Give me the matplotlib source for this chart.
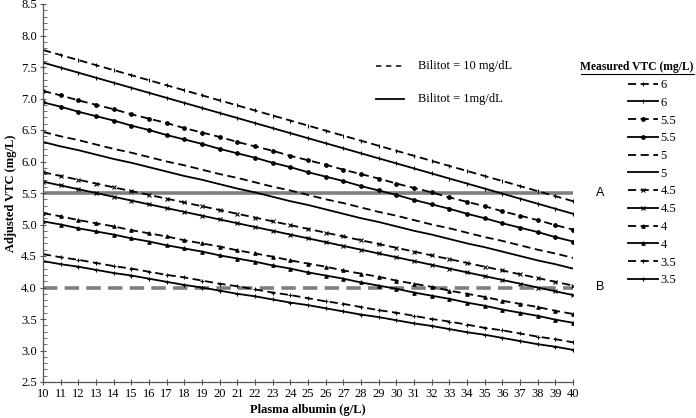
import matplotlib
matplotlib.use("Agg")
import matplotlib.pyplot as plt
from matplotlib.lines import Line2D

plt.rcParams["font.family"] = ["Liberation Serif", "DejaVu Serif"]

# Plasma albumin (g/L)
albumin = list(range(10, 41))

# Adjusted VTC (mg/L); "hi" = Bilitot 10 mg/dL (dashed), "lo" = Bilitot 1 mg/dL (solid)
vtc6_hi = [7.77, 7.69, 7.61, 7.53, 7.45, 7.37, 7.29, 7.21, 7.13, 7.05, 6.97, 6.89, 6.81, 6.73, 6.65, 6.57,
           6.49, 6.41, 6.33, 6.25, 6.17, 6.09, 6.01, 5.93, 5.85, 5.77, 5.69, 5.61, 5.53, 5.45, 5.37]
vtc6_lo = [7.57, 7.49, 7.41, 7.33, 7.25, 7.17, 7.09, 7.01, 6.93, 6.85, 6.77, 6.69, 6.61, 6.53, 6.45, 6.37,
           6.29, 6.21, 6.13, 6.05, 5.97, 5.89, 5.81, 5.73, 5.65, 5.57, 5.49, 5.41, 5.33, 5.25, 5.17]
vtc55_hi = [7.12, 7.05, 6.97, 6.90, 6.83, 6.75, 6.68, 6.61, 6.53, 6.46, 6.39, 6.31, 6.24, 6.17, 6.09, 6.02,
            5.95, 5.87, 5.80, 5.73, 5.65, 5.58, 5.51, 5.43, 5.36, 5.29, 5.21, 5.14, 5.07, 4.99, 4.92]
vtc55_lo = [6.94, 6.87, 6.79, 6.72, 6.65, 6.57, 6.50, 6.42, 6.35, 6.28, 6.20, 6.13, 6.06, 5.98, 5.91, 5.83,
            5.76, 5.69, 5.61, 5.54, 5.47, 5.39, 5.32, 5.25, 5.17, 5.10, 5.02, 4.95, 4.88, 4.80, 4.73]
vtc5_hi = [6.47, 6.40, 6.34, 6.27, 6.20, 6.14, 6.07, 6.00, 5.94, 5.87, 5.80, 5.74, 5.67, 5.60, 5.54, 5.47,
           5.40, 5.34, 5.27, 5.20, 5.14, 5.07, 5.00, 4.94, 4.87, 4.80, 4.74, 4.67, 4.60, 4.54, 4.47]
vtc5_lo = [6.31, 6.24, 6.18, 6.11, 6.04, 5.98, 5.91, 5.84, 5.77, 5.71, 5.64, 5.57, 5.51, 5.44, 5.37, 5.31,
           5.24, 5.17, 5.10, 5.04, 4.97, 4.90, 4.84, 4.77, 4.70, 4.64, 4.57, 4.50, 4.43, 4.37, 4.30]
vtc45_hi = [5.83, 5.77, 5.71, 5.65, 5.59, 5.53, 5.47, 5.41, 5.35, 5.29, 5.23, 5.17, 5.11, 5.05, 4.99, 4.93,
            4.87, 4.81, 4.75, 4.69, 4.63, 4.57, 4.51, 4.45, 4.39, 4.33, 4.27, 4.21, 4.15, 4.09, 4.03]
vtc45_lo = [5.68, 5.62, 5.56, 5.50, 5.44, 5.38, 5.32, 5.26, 5.20, 5.14, 5.08, 5.02, 4.96, 4.90, 4.84, 4.78,
            4.72, 4.66, 4.60, 4.54, 4.48, 4.42, 4.36, 4.30, 4.24, 4.18, 4.12, 4.06, 4.00, 3.94, 3.88]
vtc4_hi = [5.18, 5.13, 5.07, 5.02, 4.97, 4.91, 4.86, 4.81, 4.75, 4.70, 4.65, 4.59, 4.54, 4.49, 4.43, 4.38,
           4.33, 4.27, 4.22, 4.17, 4.11, 4.06, 4.01, 3.95, 3.90, 3.85, 3.79, 3.74, 3.69, 3.63, 3.58]
vtc4_lo = [5.05, 5.00, 4.94, 4.89, 4.84, 4.78, 4.73, 4.67, 4.62, 4.57, 4.51, 4.46, 4.41, 4.35, 4.30, 4.24,
           4.19, 4.14, 4.08, 4.03, 3.98, 3.92, 3.87, 3.82, 3.76, 3.71, 3.65, 3.60, 3.55, 3.49, 3.44]
vtc35_hi = [4.53, 4.48, 4.44, 4.39, 4.34, 4.30, 4.25, 4.20, 4.16, 4.11, 4.06, 4.02, 3.97, 3.92, 3.88, 3.83,
            3.78, 3.74, 3.69, 3.64, 3.60, 3.55, 3.50, 3.46, 3.41, 3.36, 3.32, 3.27, 3.22, 3.18, 3.13]
vtc35_lo = [4.42, 4.37, 4.33, 4.28, 4.23, 4.19, 4.14, 4.09, 4.04, 4.00, 3.95, 3.90, 3.86, 3.81, 3.76, 3.72,
            3.67, 3.62, 3.57, 3.53, 3.48, 3.43, 3.39, 3.34, 3.29, 3.25, 3.20, 3.15, 3.10, 3.06, 3.01]

measured = ["6", "6", "5.5", "5.5", "5", "5", "4.5", "4.5", "4", "4", "3.5", "3.5"]
series = [vtc6_hi, vtc6_lo, vtc55_hi, vtc55_lo, vtc5_hi, vtc5_lo,
          vtc45_hi, vtc45_lo, vtc4_hi, vtc4_lo, vtc35_hi, vtc35_lo]

# reference levels A and B
level_a = 5.5
level_b = 4.0

# -----------------------------
# Styles per measured VTC level
# -----------------------------
markers = ["|", "|", "o", "o", None, None, "x", "x", "^", "^", "+", "+"]
msizes = [2.5, 2.5, 2.6, 2.6, 0, 0, 3, 3, 2.5, 2.5, 3, 3]
DASH = (0, (4.5, 2.5))
FS = 9

fig = plt.figure(figsize=(6.96, 4.18), dpi=100)
ax = fig.add_axes([43 / 696, 1 - 382 / 418, 530 / 696, 378 / 418])

handles = []
for i, (vals, lab) in enumerate(zip(series, measured)):
    ls = DASH if i % 2 == 0 else "-"
    ln, = ax.plot(albumin, vals, color="black", linestyle=ls, linewidth=1.3,
                  marker=markers[i], markersize=msizes[i], markeredgewidth=0.8,
                  label=lab)
    handles.append(ln)

ax.hlines(level_a, albumin[0], albumin[-1], color="#7f7f7f", linewidth=2.6, zorder=1)
ax.hlines(level_b, albumin[0], albumin[-1], color="#7f7f7f", linewidth=2.6,
          linestyles=(0, (4, 2)), zorder=1)
ax.text(41.3, level_a, "A", family="Liberation Sans", fontsize=FS, va="center", clip_on=False)
ax.text(41.3, level_b, "B", family="Liberation Sans", fontsize=FS, va="center", clip_on=False)

# Bilitot key inside the plot
ax.plot([0.628, 0.680], [0.836, 0.836], transform=ax.transAxes, color="black",
        linestyle=(0, (3.5, 3)), linewidth=1.1)
ax.plot([0.628, 0.682], [0.749, 0.749], transform=ax.transAxes, color="black",
        linestyle="-", linewidth=1.3)
ax.text(0.7075, 0.836, "Bilitot = 10 mg/dL", transform=ax.transAxes, fontsize=FS, va="center")
ax.text(0.7075, 0.749, "Bilitot = 1mg/dL", transform=ax.transAxes, fontsize=FS, va="center")

# -----------------------------
# Axes formatting
# -----------------------------
ax.set_xlim(10, 40)
ax.set_ylim(2.5, 8.5)
ax.set_xticks(albumin)
ax.set_yticks([2.5 + 0.5 * k for k in range(13)])
ax.set_yticks([2.5 + 0.1 * k for k in range(61)], minor=True)
ax.yaxis.set_major_formatter(matplotlib.ticker.FormatStrFormatter("%.1f"))
ax.tick_params(axis="both", which="major", labelsize=FS, direction="inout", length=5,
               width=0.8, color="#555555", pad=2)
ax.tick_params(axis="y", which="minor", direction="in", length=3, width=0.6, color="#555555")
for side in ["top", "right"]:
    ax.spines[side].set_visible(False)
for side in ["left", "bottom"]:
    ax.spines[side].set_color("#555555")
    ax.spines[side].set_linewidth(0.9)

ax.set_xlabel("Plasma albumin (g/L)", fontsize=FS, fontweight="bold", labelpad=3)
ax.set_ylabel("Adjusted VTC (mg/L)", fontsize=FS, fontweight="bold", labelpad=3)

# Legend on the right with underlined title
fig.legend(handles=handles, loc="upper left", bbox_to_anchor=(628 / 696, 1 - 79 / 418),
           frameon=False, fontsize=FS, handlelength=2.4, handletextpad=0.2,
           labelspacing=0.46, borderpad=0, borderaxespad=0)
fig.text(637 / 696, 1 - 67 / 418, "Measured VTC (mg/L)", fontsize=8.4, fontweight="bold",
         ha="center", va="center")
fig.add_artist(Line2D([581 / 696, 694 / 696], [1 - 74 / 418, 1 - 74 / 418],
                      color="black", linewidth=0.8))

fig.savefig("out.png", dpi=100)
plt.close(fig)
